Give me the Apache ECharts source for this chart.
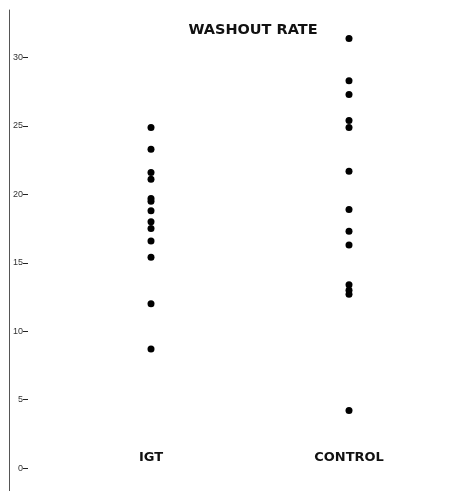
<!DOCTYPE html>
<html>
<head>
<meta charset="utf-8">
<script src="https://cdn.jsdelivr.net/npm/echarts@6/dist/echarts.min.js"></script>
<style>
html,body{margin:0;padding:0;background:#fff;}
#chart{width:452px;height:491px;}
</style>
</head>
<body>
<div id="chart"></div>
<script>
var titleText = 'WASHOUT RATE';
var categories = ['IGT', 'CONTROL'];
var igtValues = [24.9, 23.3, 21.6, 21.1, 19.7, 19.5, 18.8, 18.0, 17.5, 16.6, 15.4, 12.0, 8.7];
var controlValues = [31.4, 28.3, 27.3, 25.4, 24.9, 21.7, 18.9, 17.3, 16.3, 13.4, 13.0, 12.7, 4.2];
var yTicks = [0, 5, 10, 15, 20, 25, 30];
var yMin = -1.68;
var yMax = 33.48;

var points = [];
igtValues.forEach(function (v) { points.push([categories[0], v]); });
controlValues.forEach(function (v) { points.push([categories[1], v]); });

var chart = echarts.init(document.getElementById('chart'), null, {renderer: 'canvas'});
chart.setOption({
  animation: false,
  backgroundColor: '#ffffff',
  title: {
    text: titleText,
    left: 248,
    top: 18,
    textAlign: 'center',
    textStyle: {fontFamily: 'DejaVu Sans', fontWeight: 'bold', fontSize: 14.5, color: '#111'}
  },
  grid: {left: 52, right: 4, top: 10, bottom: 0, containLabel: false},
  xAxis: {
    type: 'category',
    data: categories,
    boundaryGap: true,
    axisLine: {show: false},
    axisTick: {show: false},
    splitLine: {show: false},
    axisLabel: {
      inside: true,
      margin: 27,
      fontFamily: 'DejaVu Sans',
      fontWeight: 'bold',
      fontSize: 13,
      color: '#111'
    }
  },
  yAxis: [
    {
      type: 'value',
      min: yMin,
      max: yMax,
      position: 'left',
      offset: 43,
      axisLine: {show: true, lineStyle: {color: '#555', width: 1}},
      axisTick: {show: false},
      axisLabel: {show: false},
      splitLine: {show: false}
    },
    {
      type: 'value',
      min: yMin,
      max: yMax,
      position: 'left',
      offset: 24,
      axisLine: {show: false},
      axisTick: {show: true, length: 5, customValues: yTicks, lineStyle: {color: '#222'}},
      axisLabel: {
        show: true,
        customValues: yTicks,
        margin: 5,
        fontFamily: 'Liberation Sans',
        fontSize: 9,
        color: '#333'
      },
      splitLine: {show: false}
    }
  ],
  series: [{
    type: 'scatter',
    yAxisIndex: 1,
    data: points,
    symbol: 'circle',
    symbolSize: 7,
    itemStyle: {color: '#000', opacity: 1}
  }]
});
</script>
</body>
</html>
